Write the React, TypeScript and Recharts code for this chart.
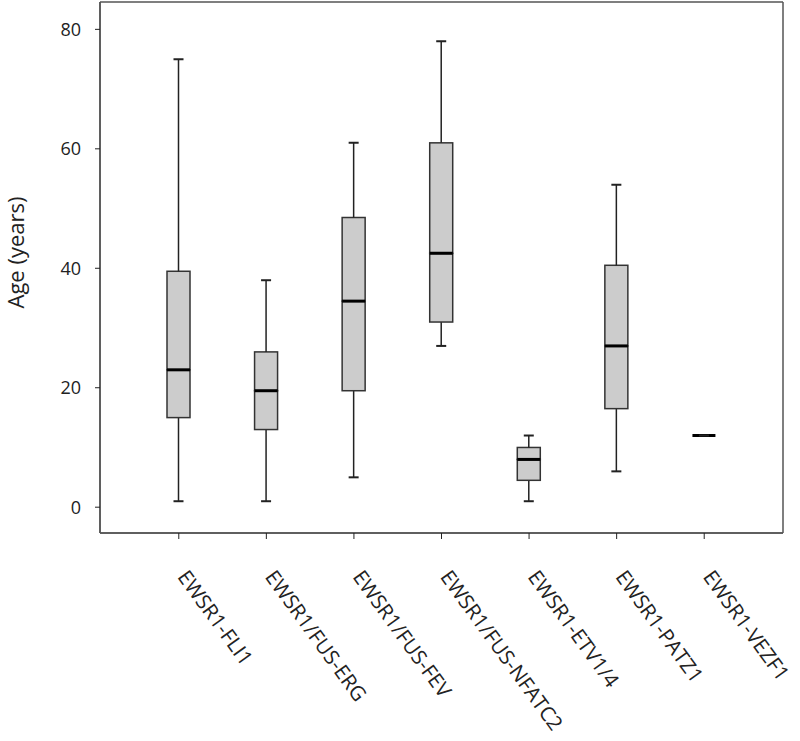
import { ComposedChart, Bar, XAxis, YAxis, CartesianGrid } from 'recharts';

const categories = [
  'EWSR1-FLI1',
  'EWSR1/FUS-ERG',
  'EWSR1/FUS-FEV',
  'EWSR1/FUS-NFATC2',
  'EWSR1-ETV1/4',
  'EWSR1-PATZ1',
  'EWSR1-VEZF1',
];
const mins = [1, 1, 5, 27, 1, 6, 12];
const q1s = [15, 13, 19.5, 31, 4.5, 16.5, 12];
const medians = [23, 19.5, 34.5, 42.5, 8, 27, 12];
const q3s = [39.5, 26, 48.5, 61, 10, 40.5, 12];
const maxs = [75, 38, 61, 78, 12, 54, 12];
const yTicks = [0, 20, 40, 60, 80];

// stacked segments: base -> lower whisker -> lower box -> upper box -> upper whisker
const data = categories.map((name, i) => ({
  name,
  base: mins[i],
  lowWhisker: q1s[i] - mins[i],
  lowBox: medians[i] - q1s[i],
  highBox: q3s[i] - medians[i],
  highWhisker: maxs[i] - q3s[i],
}));

const FONT = '"Open Sans", sans-serif';
const INK = '#222';

const Empty = () => null;

const LowWhisker = (p: any) => {
  const cx = p.x + p.width / 2;
  const bottom = p.y + p.height;
  return (
    <g>
      <line x1={cx} x2={cx} y1={p.y} y2={bottom} stroke={INK} strokeWidth={1.5} />
      <line x1={cx - 5} x2={cx + 5} y1={bottom} y2={bottom} stroke={INK} strokeWidth={2} />
    </g>
  );
};

const HighWhisker = (p: any) => {
  const cx = p.x + p.width / 2;
  return (
    <g>
      <line x1={cx} x2={cx} y1={p.y} y2={p.y + p.height} stroke={INK} strokeWidth={1.5} />
      <line x1={cx - 5} x2={cx + 5} y1={p.y} y2={p.y} stroke={INK} strokeWidth={2} />
    </g>
  );
};

const LowBox = (p: any) =>
  p.height > 0 ? (
    <rect x={p.x} y={p.y} width={p.width} height={p.height} fill="#cccccc" stroke="#333" strokeWidth={1.5} />
  ) : null;

const HighBox = (p: any) => {
  const bottom = p.y + p.height;
  return (
    <g>
      {p.height > 0 && (
        <rect x={p.x} y={p.y} width={p.width} height={p.height} fill="#cccccc" stroke="#333" strokeWidth={1.5} />
      )}
      <line x1={p.x} x2={p.x + p.width} y1={bottom} y2={bottom} stroke="#000" strokeWidth={3} />
    </g>
  );
};

const AngledTick = ({ x, y, payload }: any) => (
  <g transform={`translate(${x - 2},${y + 36}) rotate(54)`}>
    <text x={0} y={0} textAnchor="start" fontFamily={FONT} fontSize={20.5} fill={INK}>
      {payload.value}
    </text>
  </g>
);

const YLabel = ({ viewBox }: any) => {
  const cy = viewBox.y + viewBox.height / 2 - 15;
  return (
    <text
      x={15}
      y={cy}
      transform={`rotate(-90, 15, ${cy})`}
      textAnchor="middle"
      dominantBaseline="central"
      fontFamily={FONT}
      fontSize={22}
      fill={INK}
    >
      Age (years)
    </text>
  );
};

export default function App() {
  const frame = { stroke: '#555', strokeWidth: 1.5 };
  return (
    <div style={{ position: 'absolute', left: 0, top: 0, background: '#fff' }}>
      <ComposedChart
        width={800}
        height={741}
        data={data}
        margin={{ top: 2, right: 17, bottom: 0, left: 0 }}
      >
        {/* plot frame: lines on the plot area's four edges */}
        <CartesianGrid
          stroke="#555"
          strokeWidth={1.5}
          horizontalCoordinatesGenerator={({ offset }: any) => [offset.top, offset.top + offset.height]}
          verticalCoordinatesGenerator={({ offset }: any) => [offset.left, offset.left + offset.width]}
        />
        <XAxis
          dataKey="name"
          height={208}
          padding={{ left: 35, right: 35 }}
          axisLine={frame}
          tickLine={{ stroke: INK }}
          tickSize={6}
          tick={<AngledTick />}
          interval={0}
        />
        <YAxis
          width={100}
          domain={[-4.32, 84.58]}
          ticks={yTicks}
          allowDataOverflow
          axisLine={frame}
          tickLine={{ stroke: INK }}
          tickSize={5}
          tickMargin={14}
          tick={{ fontFamily: FONT, fontSize: 18, fill: INK }}
          label={<YLabel />}
        />
        <Bar dataKey="base" stackId="box" barSize={23} shape={<Empty />} isAnimationActive={false} />
        <Bar dataKey="lowWhisker" stackId="box" barSize={23} shape={<LowWhisker />} isAnimationActive={false} />
        <Bar dataKey="lowBox" stackId="box" barSize={23} shape={<LowBox />} isAnimationActive={false} />
        <Bar dataKey="highBox" stackId="box" barSize={23} shape={<HighBox />} isAnimationActive={false} />
        <Bar dataKey="highWhisker" stackId="box" barSize={23} shape={<HighWhisker />} isAnimationActive={false} />
      </ComposedChart>
    </div>
  );
}
